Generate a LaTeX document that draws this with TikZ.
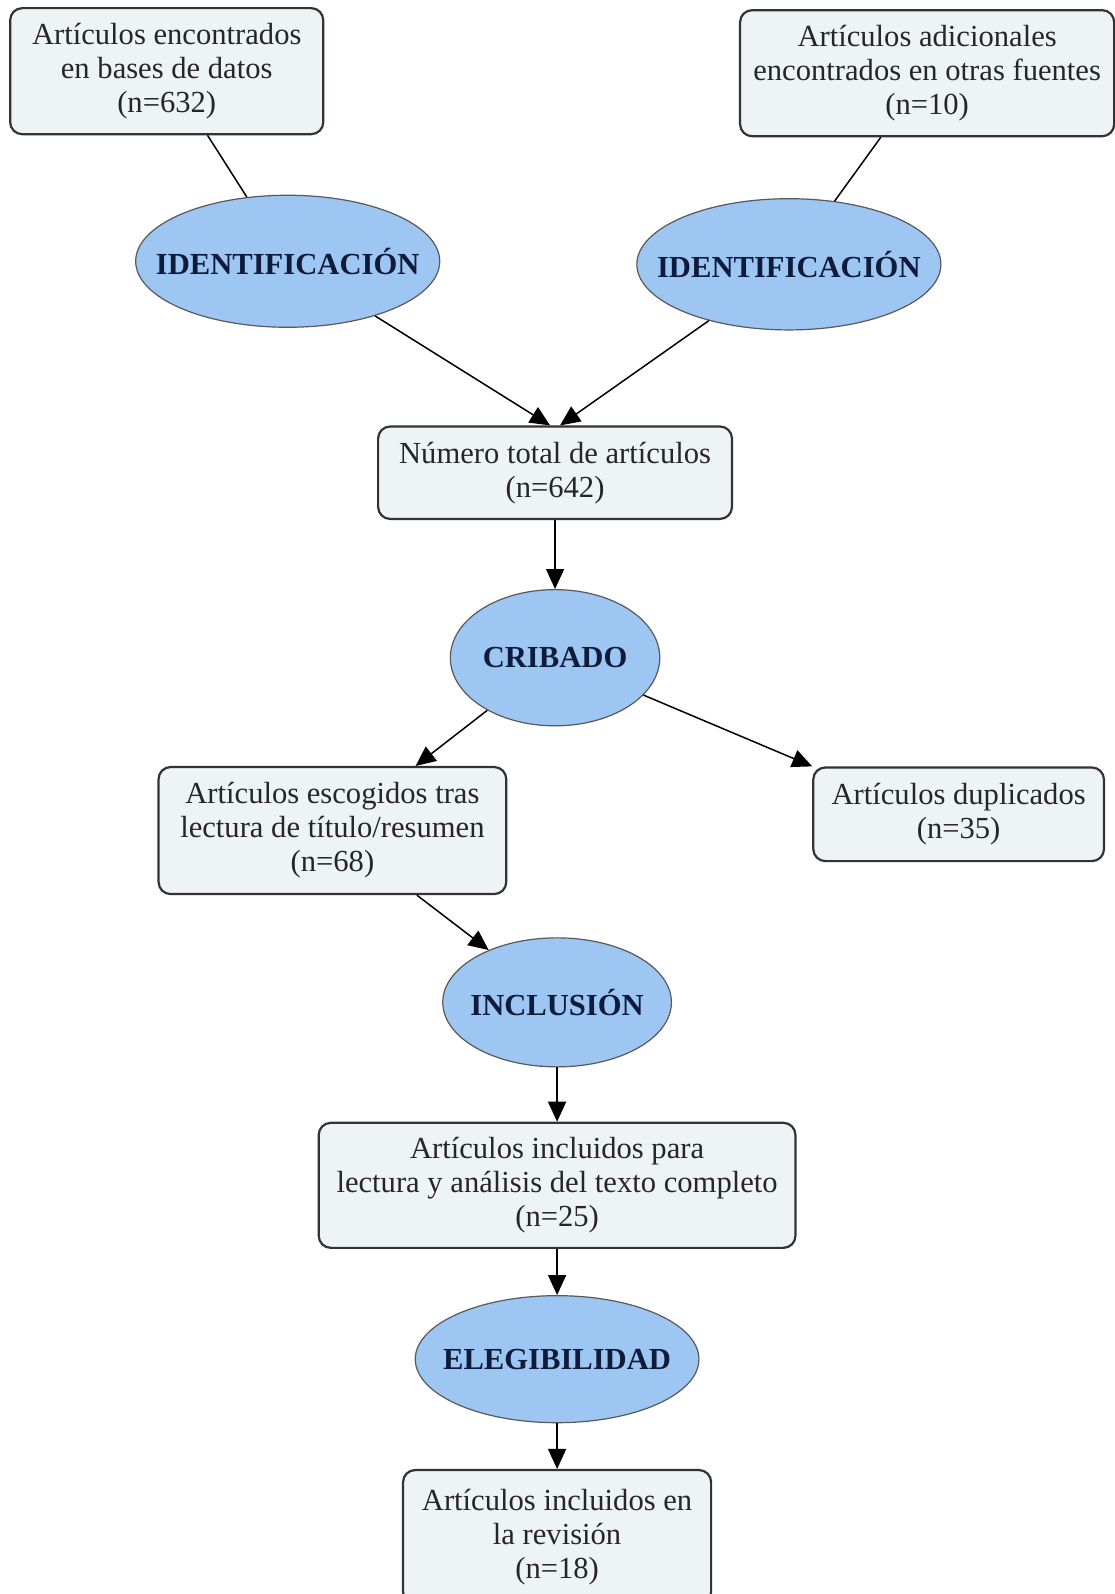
\documentclass[tikz,border=0pt]{standalone}
\usepackage{fontspec}
\setmainfont{Liberation Serif}
\usetikzlibrary{shapes.geometric}
\usetikzlibrary{arrows.meta}
\definecolor{cajafill}{HTML}{EEF3F5}
\definecolor{fasefill}{HTML}{9DC6F2}
\definecolor{fasetext}{HTML}{0E1B3A}
\newcommand{\tamano}{\fontsize{15.3}{17}\selectfont}
\newcommand{\etiq}[1]{\makebox[0pt]{#1}}
\tikzset{
  caja/.style={draw=black!80, line width=1.1pt, rounded corners=6pt, fill=cajafill, align=center, text=black!85, font=\tamano, inner sep=0pt},
  fase/.style={ellipse, draw=black!65, line width=0.6pt, fill=fasefill, text=fasetext, font=\tamano\bfseries, inner sep=0pt},
  flecha/.style={-{Triangle[length=10pt,width=9pt]}, line width=0.75pt},
  linea/.style={line width=0.75pt}
}
\begin{document}
\begin{tikzpicture}[x=0.5082pt, y=-0.5082pt]
        \useasboundingbox[fill=white] (0,0) rectangle (1096,1568);
        \node[caja, minimum width=156.5pt, minimum height=63pt] (b-1) at (164,70) {Artículos encontrados\\en bases de datos\\(n=632)};
        \node[caja, minimum width=187pt, minimum height=63pt] (b-2) at (912,72) {Artículos adicionales\\encontrados en otras fuentes\\(n=10)};
        \node[fase, minimum width=152pt, minimum height=66pt] (f-1) at (283,257) {\etiq{IDENTIFICACIÓN}};
        \node[fase, minimum width=152pt, minimum height=65.6pt] (f-2) at (776,260) {\etiq{IDENTIFICACIÓN}};
        \node[caja, minimum width=176.9pt, minimum height=46.2pt] (b-3) at (546,465) {Número total de artículos\\(n=642)};
        \node[fase, minimum width=104.7pt, minimum height=68.1pt] (f-3) at (546,647) {\etiq{CRIBADO}};
        \node[caja, minimum width=173.8pt, minimum height=63.5pt] (b-4) at (327,817) {Artículos escogidos tras\\lectura de título/resumen\\(n=68)};
        \node[caja, minimum width=145.3pt, minimum height=46.8pt] (b-5) at (943,801) {Artículos duplicados\\(n=35)};
        \node[fase, minimum width=114.3pt, minimum height=64.5pt] (f-4) at (548,986) {\etiq{INCLUSIÓN}};
        \node[caja, minimum width=238.3pt, minimum height=62.5pt] (b-6) at (548,1166) {Artículos incluidos para\\lectura y análisis del texto completo\\(n=25)};
        \node[fase, minimum width=141.8pt, minimum height=63.5pt] (f-5) at (548,1337) {\etiq{ELEGIBILIDAD}};
        \node[caja, minimum width=154pt, minimum height=67pt] (b-7) at (548,1512) {Artículos incluidos en\\la revisión\\(n=18)};

        \path[linea] (b-1) edge (f-1);
        \path[linea] (b-2) edge (f-2);
        \path[flecha] (f-1) edge ([xshift=-2.5pt]b-3.north);
        \path[flecha] (f-2) edge ([xshift=2.5pt]b-3.north);
        \path[flecha] (b-3) edge (f-3);
        \path[flecha] (f-3) edge (b-4);
        \path[flecha] (f-3) edge (b-5.north west);
        \path[flecha] (b-4) edge (f-4);
        \path[flecha] (f-4) edge (b-6);
        \path[flecha] (b-6) edge (f-5);
        \path[flecha] (f-5) edge (b-7);
      \end{tikzpicture}
\end{document}
